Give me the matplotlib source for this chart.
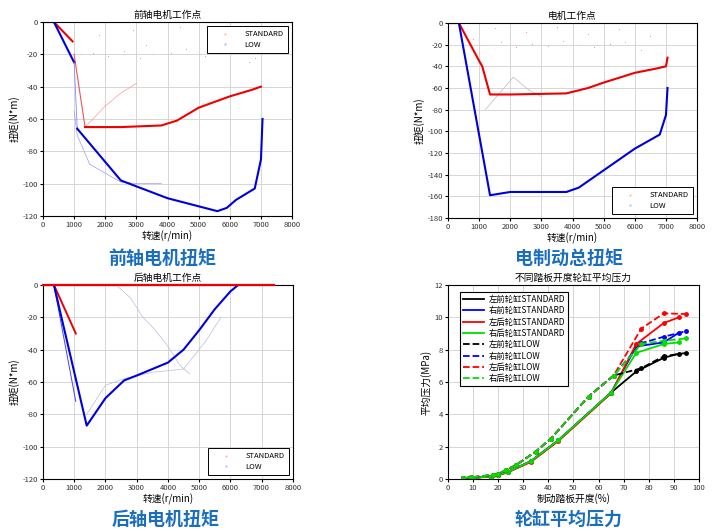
import matplotlib
matplotlib.use('Agg')
import matplotlib.pyplot as plt
from matplotlib.lines import Line2D

plt.rcParams['font.family'] = ['Noto Sans CJK SC', 'DejaVu Sans']
plt.rcParams['axes.unicode_minus'] = False

# ---------------- data ----------------
# 前轴电机工作点
fa_red_x = [0, 350, 950]
fa_red_y = [0, 0, -12]
fa_red2_x = [1350, 2500, 3800, 4300, 5000, 6000, 6700, 7000]
fa_red2_y = [-65, -65, -64, -61, -53, -46, -42, -40]
fa_red_link_x = [1000, 1350]
fa_red_link_y = [-20, -65]
fa_blue_x = [0, 350, 1000]
fa_blue_y = [0, 0, -25]
fa_blue2_x = [1100, 2500, 4000, 5000, 5600, 5900, 6200, 6800, 7000, 7050]
fa_blue2_y = [-66, -98, -109, -114, -117, -115, -110, -103, -85, -60]
fa_faint_red_x = [1350, 2000, 2500, 3000]
fa_faint_red_y = [-65, -52, -44, -38]
fa_faint_blue_x = [1000, 1100, 1500, 2500, 3000, 3800]
fa_faint_blue_y = [-55, -70, -88, -99, -100, -100]
fa_dots_x = [1200, 1600, 2100, 2600, 3100, 3500, 4100, 4600, 5200, 5700, 6300, 6800, 1800, 2900, 4400, 5500, 6600, 3300]
fa_dots_y = [-20, -19, -21, -18, -22, -20, -19, -17, -21, -20, -18, -22, -8, -5, -3, -10, -25, -14]

# 电机工作点 (总)
tot_red_x = [0, 350, 1000, 1100, 1350, 2000, 3800, 4500, 5000, 6000, 6700, 7000, 7050]
tot_red_y = [0, 0, -35, -40, -66, -66, -65, -60, -55, -46, -42, -40, -32]
tot_blue_x = [0, 350, 1350, 2000, 3800, 4200, 5000, 6000, 6800, 7000, 7050]
tot_blue_y = [0, 0, -159, -156, -156, -152, -136, -116, -103, -85, -60]
tot_faint_x = [1200, 1500, 2100, 2600, 3000]
tot_faint_y = [-80, -70, -50, -62, -68]
tot_dots_x = [800, 1200, 1700, 2200, 2700, 3200, 3700, 4200, 4700, 5200, 5700, 6200, 1500, 2500, 3500, 4500, 5500, 6500]
tot_dots_y = [-15, -20, -18, -22, -19, -21, -17, -20, -22, -19, -18, -25, -5, -8, -4, -10, -6, -12]

# 后轴电机工作点
ra_red_x = [0, 350, 1050]
ra_red_y = [0, 0, -30]
ra_zero_x = [0, 7400]
ra_zero_y = [0, 0]
ra_blue_thin_x = [350, 1050]
ra_blue_thin_y = [0, -72]
ra_blue_x = [0, 350, 1400, 2000, 2600, 3000, 4000, 4500, 5000, 5500, 6000, 6250]
ra_blue_y = [0, 0, -87, -70, -59, -56, -48, -40, -28, -15, -4, 0]
ra_faint_x = [2400, 2800, 3200, 3600, 4000, 4400, 4700]
ra_faint_y = [-1, -8, -20, -28, -38, -50, -55]
ra_faint2_x = [1400, 2000, 2600, 3500, 4500, 5200, 5700]
ra_faint2_y = [-80, -62, -58, -54, -52, -35, -20]

# 不同踏板开度轮缸平均压力
std_x = [6, 10, 17, 20, 24, 33, 44, 65, 75, 86, 92]
std_lf = [0.05, 0.08, 0.15, 0.25, 0.45, 1.1, 2.4, 5.35, 6.65, 7.5, 7.75]
std_rf = [0.05, 0.08, 0.15, 0.25, 0.45, 1.1, 2.4, 5.35, 8.2, 8.45, 9.05]
std_lr = [0.05, 0.08, 0.15, 0.22, 0.42, 1.05, 2.35, 5.3, 8.35, 9.65, 10.0]
std_rr = [0.05, 0.08, 0.15, 0.25, 0.45, 1.1, 2.4, 5.35, 7.8, 8.35, 8.45]
low_x = [6, 9, 18, 20, 23, 27, 35, 41, 56, 66, 77, 86, 95]
low_lf = [0.05, 0.1, 0.25, 0.3, 0.55, 0.85, 1.7, 2.5, 5.1, 6.4, 6.85, 7.6, 7.8]
low_rf = [0.05, 0.1, 0.25, 0.3, 0.55, 0.85, 1.7, 2.5, 5.1, 6.4, 8.4, 8.8, 9.15]
low_lr = [0.05, 0.1, 0.25, 0.3, 0.55, 0.85, 1.7, 2.5, 5.1, 6.4, 9.3, 10.25, 10.2]
low_rr = [0.05, 0.1, 0.25, 0.3, 0.55, 0.85, 1.7, 2.5, 5.1, 6.4, 8.35, 8.55, 8.7]
wheel_names = ['左前轮缸', '右前轮缸', '左后轮缸', '右后轮缸']
wheel_colors = ['black', '#0000ff', '#ff0000', '#00e000']

title_color = '#1a6ec0'
tick_fs = 5.5
lab_fs = 7

fig = plt.figure(figsize=(7.2, 5.31), dpi=100)

ax1 = fig.add_axes([0.0597, 0.5932, 0.346, 0.3654])
ax2 = fig.add_axes([0.6222, 0.5895, 0.346, 0.3672])
ax3 = fig.add_axes([0.0597, 0.0979, 0.347, 0.3654])
ax4 = fig.add_axes([0.6222, 0.0979, 0.3486, 0.3654])


def motor_style(ax, ymin, title, loc):
    ax.set_xlim(0, 8000)
    ax.set_ylim(ymin, 0)
    ax.set_xticks(range(0, 8001, 1000))
    ax.grid(True, color='#d0d0d0', lw=0.6)
    ax.tick_params(labelsize=tick_fs, length=2, pad=1.5, labelcolor='#333333')
    ax.set_title(title, fontsize=lab_fs, pad=3)
    ax.set_xlabel('转速(r/min)', fontsize=lab_fs, labelpad=1)
    ax.set_ylabel('扭矩(N*m)', fontsize=lab_fs, labelpad=2)
    h = [Line2D([], [], ls='none', marker='.', ms=1, color='#ffaaaa'),
         Line2D([], [], ls='none', marker='.', ms=1, color='#aaaaff')]
    leg = ax.legend(h, ['STANDARD', 'LOW'], loc=loc, fontsize=5.5, fancybox=False,
                    edgecolor='black', framealpha=1, handlelength=3.5, borderpad=0.6,
                    labelspacing=0.3)
    leg.get_frame().set_linewidth(0.7)


# panel 1
ax1.plot(fa_faint_red_x, fa_faint_red_y, color='#ff9999', lw=0.5)
ax1.plot(fa_faint_blue_x, fa_faint_blue_y, color='#9999ff', lw=0.5)
ax1.scatter(fa_dots_x, fa_dots_y, s=0.6, color='#ff8888', lw=0)
ax1.plot(fa_red_link_x, fa_red_link_y, color='#ee5555', lw=0.8)
ax1.plot(fa_red_x, fa_red_y, color='#ee0000', lw=1.5)
ax1.plot(fa_red2_x, fa_red2_y, color='#ee0000', lw=1.5)
ax1.plot(fa_blue_x, fa_blue_y, color='#0000dd', lw=1.5)
ax1.plot([fa_blue_x[-1], fa_blue2_x[0]], [fa_blue_y[-1], fa_blue2_y[0]], color='#8888ff', lw=0.6)
ax1.plot(fa_blue2_x, fa_blue2_y, color='#0000dd', lw=1.5)
motor_style(ax1, -120, '前轴电机工作点', 'upper right')

# panel 2
ax2.plot(tot_faint_x, tot_faint_y, color='#bbbbbb', lw=0.5)
ax2.scatter(tot_dots_x, tot_dots_y, s=0.6, color='#ff8888', lw=0)
ax2.plot(tot_red_x, tot_red_y, color='#ee0000', lw=1.5)
ax2.plot(tot_blue_x, tot_blue_y, color='#0000dd', lw=1.5)
motor_style(ax2, -180, '电机工作点', 'lower right')

# panel 3
ax3.plot(ra_faint_x, ra_faint_y, color='#bbbbdd', lw=0.5)
ax3.plot(ra_faint2_x, ra_faint2_y, color='#bbbbdd', lw=0.5)
ax3.plot(ra_zero_x, ra_zero_y, color='#ee0000', lw=1.6, clip_on=False, zorder=3)
ax3.plot(ra_red_x, ra_red_y, color='#ee0000', lw=1.4)
ax3.plot(ra_blue_thin_x, ra_blue_thin_y, color='#4444ee', lw=0.7)
ax3.plot(ra_blue_x, ra_blue_y, color='#0000dd', lw=1.5)
motor_style(ax3, -120, '后轴电机工作点', 'lower right')

# panel 4
std_vals = [std_lf, std_rf, std_lr, std_rr]
low_vals = [low_lf, low_rf, low_lr, low_rr]
for name, c, v in zip(wheel_names, wheel_colors, std_vals):
    ax4.plot(std_x, v, color=c, lw=1.3, marker='o', ms=2.5, label=name + 'STANDARD')
for name, c, v in zip(wheel_names, wheel_colors, low_vals):
    ax4.plot(low_x, v, color=c, lw=1.3, ls='--', marker='o', ms=2.5, label=name + 'LOW')
ax4.set_xlim(0, 100)
ax4.set_ylim(0, 12)
ax4.set_xticks(range(0, 101, 10))
ax4.set_yticks(range(0, 13, 2))
ax4.grid(True, color='#d0d0d0', lw=0.6)
ax4.tick_params(labelsize=tick_fs, length=2, pad=1.5, labelcolor='#333333')
ax4.set_title('不同踏板开度轮缸平均压力', fontsize=lab_fs, pad=3)
ax4.set_xlabel('制动踏板开度(%)', fontsize=lab_fs, labelpad=1)
ax4.set_ylabel('平均压力(MPa)', fontsize=lab_fs, labelpad=2)
h4, l4 = ax4.get_legend_handles_labels()
h4 = [Line2D([], [], color=h.get_color(), ls=h.get_linestyle(), lw=1.3) for h in h4]
leg4 = ax4.legend(h4, l4, loc='upper left', fontsize=6, fancybox=False, edgecolor='black',
                  framealpha=1, handlelength=2.6, labelspacing=0.28, borderpad=0.35,
                  handletextpad=0.5, bbox_to_anchor=(0.03, 0.985))
leg4.get_frame().set_linewidth(0.8)

# big captions
for x, y, t in [(0.225, 0.513, '前轴电机扭矩'), (0.79, 0.513, '电制动总扭矩'),
                (0.23, 0.022, '后轴电机扭矩'), (0.79, 0.022, '轮缸平均压力')]:
    fig.text(x, y, t, color=title_color, fontsize=13, fontweight='bold', ha='center', va='center')

plt.savefig('out.png', dpi=100)
